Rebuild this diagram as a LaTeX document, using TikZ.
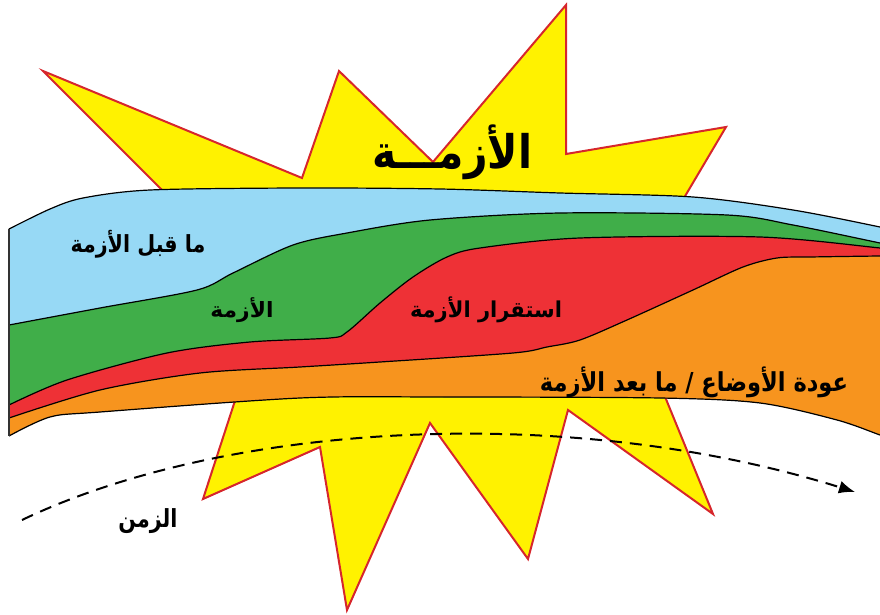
\documentclass[tikz,border=0pt]{standalone}
\usepackage{fontspec}
\usepackage{graphicx}
\usetikzlibrary{arrows.meta}
\newfontfamily\arabicfont[Script=Arabic]{DejaVu Sans}
\TeXXeTstate=1
\definecolor{bandblue}{RGB}{151,217,245}
\definecolor{bandgreen}{RGB}{64,174,73}
\definecolor{bandred}{RGB}{238,49,54}
\definecolor{bandorange}{RGB}{247,148,30}
\definecolor{staryellow}{RGB}{255,242,0}
\definecolor{starred}{RGB}{214,38,44}
\definecolor{edgegray}{RGB}{50,50,50}
\tikzset{
  starshape/.style={fill=staryellow, draw=starred, line width=1pt, line join=miter},
  bandline/.style={draw=black, line width=0.6pt},
  timearrow/.style={draw=black, line width=1pt, dash pattern=on 6pt off 4pt, -{Latex[length=8pt,width=6.5pt]}},
  lbl/.style={inner sep=0pt, anchor=center},
  smoothy/.style={smooth, tension=0.5}
}
\newcommand\artext[3]{\resizebox*{#1}{#2}{\arabicfont\bfseries #3}}
\begin{document}
\begin{tikzpicture}[x=0.5pt,y=-0.5pt]
\useasboundingbox (0,0) rectangle (880,615);
% star
\draw[starshape] (43,71) -- (302,178) -- (339,71) -- (433,162) -- (566,5) -- (566,154)
  -- (726,127) -- (665,230) -- (650,360) -- (713,514) -- (568,410) -- (528,559)
  -- (430,423) -- (347,610) -- (320,447) -- (203,499) -- (245,370) -- (250,278) -- cycle;
% bands
\begin{scope}
\clip (0,0) rectangle (880,615);
\clip plot[smoothy] coordinates {(9,229) (50,209) (83,198) (150,190) (300,188) (440,189) (560,193) (693,197) (793,210) (880,227) (895,231)}
  -- plot[smoothy] coordinates {(895,440) (880,435) (837,420) (760,403) (660,398) (440,397) (300,398) (100,412) (50,417) (9,436)} -- cycle;
\fill[bandblue] (0,0) rectangle (900,615);
\fill[bandgreen] plot[smoothy] coordinates {(9,325) (100,308) (197,290) (233,273) (293,245) (347,233) (430,220) (560,213) (727,215) (793,225) (880,243) (895,246)}
  -- (900,615) -- (0,615) -- (0,325) -- cycle;
\fill[bandred] plot[smoothy] coordinates {(9,405) (67,380) (167,353) (250,342) (330,338) (347,332) (380,303) (413,277) (447,257) (480,248) (580,238) (760,237) (880,248) (895,250)}
  -- (900,615) -- (0,615) -- (0,405) -- cycle;
\fill[bandorange] plot[smoothy] coordinates {(9,418) (100,390) (200,373) (300,367) (380,362) (513,353) (547,347) (580,340) (627,320) (693,290) (743,267) (777,258) (810,257) (880,256) (895,256)}
  -- (900,615) -- (0,615) -- (0,418) -- cycle;
\end{scope}
\begin{scope}
\clip (0,0) rectangle (880,615);
\draw[bandline] plot[smoothy] coordinates {(9,229) (50,209) (83,198) (150,190) (300,188) (440,189) (560,193) (693,197) (793,210) (880,227) (895,231)};
\draw[bandline] plot[smoothy] coordinates {(9,325) (100,308) (197,290) (233,273) (293,245) (347,233) (430,220) (560,213) (727,215) (793,225) (880,243) (895,246)};
\draw[bandline] plot[smoothy] coordinates {(9,405) (67,380) (167,353) (250,342) (330,338) (347,332) (380,303) (413,277) (447,257) (480,248) (580,238) (760,237) (880,248) (895,250)};
\draw[bandline] plot[smoothy] coordinates {(9,418) (100,390) (200,373) (300,367) (380,362) (513,353) (547,347) (580,340) (627,320) (693,290) (743,267) (777,258) (810,257) (880,256) (895,256)};
\draw[bandline] plot[smoothy] coordinates {(9,436) (50,417) (100,412) (300,398) (440,397) (660,398) (760,403) (837,420) (880,435) (895,440)};
\end{scope}
\draw[edgegray, line width=0.8pt] (9,229) -- (9,436);
% time arrow
\coordinate (ts) at (22,520);
\coordinate (te) at (855,492);
\draw[timearrow] (ts) .. controls (220,425) and (560,400) .. (te);
% labels
\node[lbl] (title) at (452,152) {\artext{80pt}{27.5pt}{\beginR الأزمـــة\endR}};
\node[lbl] (pre) at (138,244) {\artext{67.5pt}{14pt}{\beginR ما قبل الأزمة\endR}};
\node[lbl] (crisis) at (242,310) {\artext{31.5pt}{12.5pt}{\beginR الأزمة\endR}};
\node[lbl] (stab) at (486,310) {\artext{76pt}{13pt}{\beginR استقرار الأزمة\endR}};
\node[lbl] (post) at (694,382) {\artext{154pt}{15.5pt}{\beginR عودة الأوضاع / ما بعد الأزمة\endR}};
\node[lbl] (time) at (148,521) {\artext{29.5pt}{12.5pt}{\beginR الزمن\endR}};
\end{tikzpicture}
\end{document}
